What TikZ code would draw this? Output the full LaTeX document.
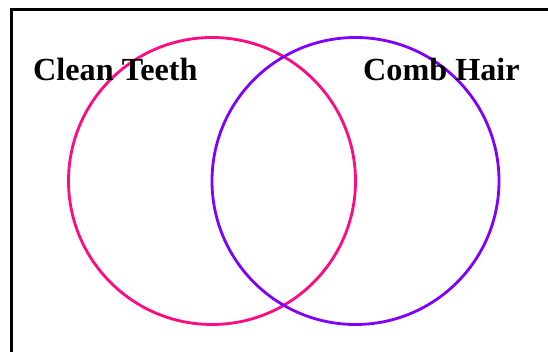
\documentclass[tikz,border=0pt]{standalone}
\usepackage{fontspec}
\setmainfont{Liberation Serif}
\definecolor{cpink}{HTML}{FF0A80}
\definecolor{cpurple}{HTML}{8000FF}
\tikzset{
  ring/.style={line width=2.8pt},
  setlabel/.style={font=\fontsize{32.2}{36}\selectfont\bfseries, inner sep=0pt, anchor=base west}
}
\begin{document}
\begin{tikzpicture}[x=1pt,y=-1pt]
\clip (0,0) rectangle (548,352);
\fill[white] (0,0) rectangle (548,352);
\draw[line width=3pt] (11,10) rectangle (600,400);
\node[ring, draw=cpink, circle, minimum size=287pt, inner sep=0pt] (teeth) at (212,181) {};
\node[ring, draw=cpurple, circle, minimum size=287pt, inner sep=0pt] (hair) at (355.5,181) {};
\node[setlabel] (lteeth) at (33,81) {Clean Teeth};
\node[setlabel] (lhair) at (363,81) {Comb Hair};
\end{tikzpicture}
\end{document}
